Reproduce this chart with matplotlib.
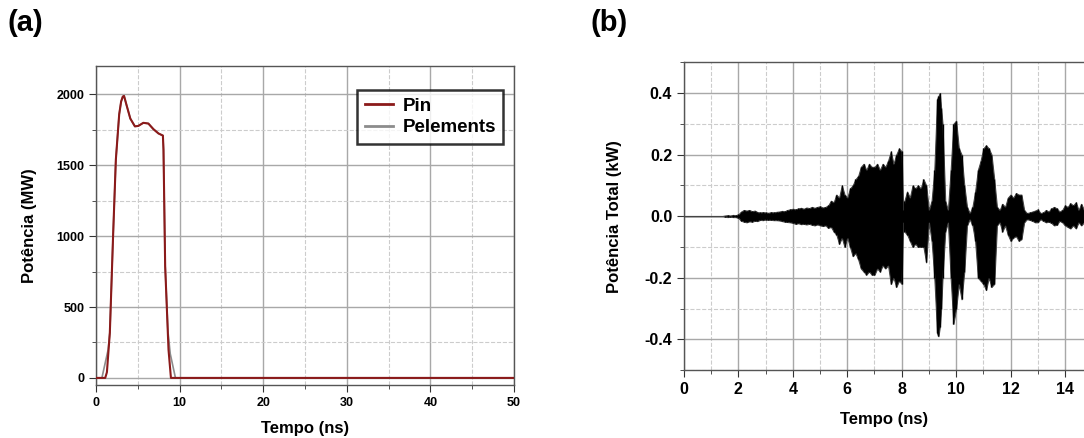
"""
Two-panel power plot: (a) input power vs. element power over time,
(b) total power oscillation envelope.
"""
import numpy as np
import matplotlib.pyplot as plt
from matplotlib.ticker import MultipleLocator

plt.rcParams['font.family'] = ['Liberation Sans', 'DejaVu Sans']
plt.rcParams['font.weight'] = 'bold'

# ---- panel (a) data: time (ns) / power (MW) ----
PIN_TIME = [0.0, 1.1, 1.3, 1.65, 2.05, 2.37, 2.77, 3.0, 3.2, 3.35, 3.65, 4.1, 4.65,
            5.05, 5.66, 6.26, 6.87, 7.47, 8.0, 8.07, 8.27, 8.67, 8.96, 50.0]
PIN_POWER = [0, 0, 40, 318, 1020, 1540, 1860, 1950, 1985, 1990, 1925, 1830, 1775,
             1778, 1800, 1795, 1755, 1725, 1710, 1610, 790, 200, 0, 0]

PEL_TIME = [0.0, 0.7, 1.45, 1.65, 2.05, 2.37, 2.77, 3.0, 3.2, 3.35, 3.65, 4.1, 4.65,
            5.05, 5.66, 6.26, 6.87, 7.47, 8.0, 8.07, 8.27, 8.6, 8.88, 9.5, 50.0]
PEL_POWER = [0, 0, 200, 318, 1020, 1540, 1860, 1950, 1985, 1990, 1925, 1830, 1775,
             1778, 1800, 1795, 1755, 1725, 1710, 1610, 790, 330, 170, 0, 0]

# ---- panel (b) data: time (ns) / upper & lower envelope (kW) ----
TOT_TIME = [0.0, 1.4, 1.5, 1.6, 1.7, 1.8, 1.9, 2.0, 2.1, 2.2, 2.3, 2.4, 2.5, 2.6, 2.7, 2.8, 2.9,
            3.0, 3.1, 3.2, 3.3, 3.4, 3.5, 3.6, 3.7, 3.8, 3.9,
            4.0, 4.1, 4.2, 4.3, 4.4, 4.5, 4.6, 4.7, 4.8, 4.9,
            5.0, 5.1, 5.2, 5.3, 5.4, 5.5, 5.6, 5.7, 5.8, 5.9,
            6.0, 6.1, 6.2, 6.3, 6.4, 6.5, 6.6, 6.7, 6.8, 6.9,
            7.0, 7.1, 7.2, 7.3, 7.4, 7.5, 7.6, 7.7, 7.8, 7.9,
            8.0, 8.05, 8.1, 8.2, 8.3, 8.4, 8.5, 8.6, 8.7, 8.8, 8.9,
            9.0, 9.1, 9.2, 9.3, 9.35, 9.4, 9.45, 9.5, 9.6, 9.7, 9.8, 9.9,
            10.0, 10.1, 10.2, 10.3, 10.4, 10.5, 10.6, 10.7, 10.8, 10.9,
            11.0, 11.1, 11.2, 11.3, 11.4, 11.5, 11.6, 11.7, 11.8, 11.9,
            12.0, 12.1, 12.2, 12.3, 12.4, 12.5, 12.6, 12.7, 12.8, 12.9,
            13.0, 13.1, 13.2, 13.3, 13.4, 13.5, 13.6, 13.7, 13.8, 13.9,
            14.0, 14.1, 14.2, 14.3, 14.4, 14.5, 14.6, 14.7]
TOT_UPPER = [0.0, 0.0, 0.002, 0.003, 0.002, 0.004, 0.003, 0.006, 0.015, 0.02, 0.018, 0.02, 0.016, 0.018, 0.013, 0.012, 0.013,
             0.012, 0.011, 0.013, 0.012, 0.014, 0.015, 0.017, 0.016, 0.02, 0.022,
             0.024, 0.022, 0.025, 0.027, 0.024, 0.028, 0.026, 0.03, 0.027, 0.03,
             0.032, 0.028, 0.03, 0.035, 0.05, 0.045, 0.07, 0.06, 0.1, 0.07,
             0.06, 0.09, 0.1, 0.12, 0.13, 0.16, 0.17, 0.15, 0.17, 0.16,
             0.16, 0.17, 0.15, 0.17, 0.16, 0.18, 0.21, 0.17, 0.2, 0.22,
             0.21, 0.02, 0.05, 0.08, 0.06, 0.1, 0.09, 0.1, 0.09, 0.12, 0.1,
             0.02, 0.05, 0.15, 0.38, 0.39, 0.4, 0.35, 0.3, 0.05, 0.02, 0.15, 0.3,
             0.31, 0.22, 0.2, 0.1, 0.03, 0.01, 0.03, 0.08, 0.15, 0.18,
             0.22, 0.23, 0.22, 0.2, 0.12, 0.03, 0.02, 0.04, 0.03, 0.06,
             0.07, 0.06, 0.075, 0.07, 0.07, 0.02, 0.01, 0.012, 0.015, 0.018,
             0.022, 0.01, 0.012, 0.02, 0.015, 0.025, 0.03, 0.025, 0.015, 0.02,
             0.035, 0.03, 0.042, 0.035, 0.045, 0.02, 0.04, 0.02]
TOT_LOWER = [0.0, 0.0, -0.002, -0.003, -0.002, -0.003, -0.003, -0.006, -0.015, -0.018, -0.02, -0.017, -0.018, -0.015, -0.016, -0.012, -0.013,
             -0.011, -0.012, -0.012, -0.013, -0.013, -0.014, -0.016, -0.018, -0.019, -0.02,
             -0.022, -0.025, -0.023, -0.026, -0.025, -0.027, -0.025, -0.028, -0.03, -0.027,
             -0.03, -0.032, -0.03, -0.038, -0.035, -0.05, -0.06, -0.09, -0.07, -0.1,
             -0.07, -0.1, -0.13, -0.12, -0.14, -0.17, -0.18, -0.19, -0.18, -0.19,
             -0.19, -0.17, -0.18, -0.16, -0.17, -0.16, -0.22, -0.2, -0.23, -0.21,
             -0.22, -0.02, -0.05, -0.06, -0.08, -0.1, -0.09, -0.1, -0.1, -0.1, -0.15,
             -0.02, -0.08, -0.2, -0.38, -0.39, -0.36, -0.3, -0.2, -0.05, -0.02, -0.2, -0.35,
             -0.3, -0.22, -0.27, -0.18, -0.03, -0.01, -0.03, -0.08, -0.2, -0.21,
             -0.22, -0.24, -0.2, -0.23, -0.22, -0.03, -0.02, -0.05, -0.03, -0.06,
             -0.08, -0.07, -0.065, -0.08, -0.075, -0.02, -0.01, -0.012, -0.015, -0.02,
             -0.02, -0.01, -0.015, -0.02, -0.018, -0.022, -0.03, -0.028, -0.015, -0.02,
             -0.03, -0.035, -0.04, -0.03, -0.04, -0.02, -0.03, -0.02]


def style_axes(ax, tick_size):
    ax.grid(which='major', color='#a8a8a8', linestyle='-', linewidth=1.0)
    ax.grid(which='minor', color='#cccccc', linestyle='--', linewidth=0.8)
    ax.set_axisbelow(True)
    ax.tick_params(which='both', direction='out', colors='#333333', labelcolor='black')
    ax.tick_params(which='major', length=5, labelsize=tick_size)
    ax.tick_params(which='minor', length=3)
    for spine in ax.spines.values():
        spine.set_color('#555555')
        spine.set_linewidth(1.0)
    for lbl in ax.get_xticklabels() + ax.get_yticklabels():
        lbl.set_fontweight('bold')


fig = plt.figure(figsize=(10.84, 4.38), dpi=100)

# ---- (a) ----
ax1 = fig.add_axes([0.0886, 0.121, 0.3855, 0.728])
ax1.plot(PEL_TIME, PEL_POWER, color='#8c8c8c', linewidth=1.2, label='Pelements', zorder=3)
ax1.plot(PIN_TIME, PIN_POWER, color='#8b1a1a', linewidth=1.5, label='Pin', zorder=4)
ax1.set_xlim(0, 50)
ax1.set_ylim(-50, 2200)
ax1.xaxis.set_major_locator(MultipleLocator(10))
ax1.xaxis.set_minor_locator(MultipleLocator(5))
ax1.yaxis.set_major_locator(MultipleLocator(500))
ax1.yaxis.set_minor_locator(MultipleLocator(250))
style_axes(ax1, 9)
ax1.set_xlabel('Tempo (ns)', fontsize=12, fontweight='bold', labelpad=9)
ax1.set_ylabel('Potência (MW)', fontsize=12, fontweight='bold', labelpad=14)
handles, labels = ax1.get_legend_handles_labels()
leg = ax1.legend(handles[::-1], labels[::-1], loc='upper right', bbox_to_anchor=(0.975, 0.925),
                 prop={'weight': 'bold', 'size': 13.5}, frameon=True, fancybox=False,
                 handlelength=1.5, borderpad=0.4, labelspacing=0.25, handletextpad=0.5,
                 borderaxespad=0.0)
leg.get_frame().set_edgecolor('black')
leg.get_frame().set_linewidth(1.8)
for line in leg.get_lines():
    line.set_linewidth(2.0)
fig.text(0.007, 0.948, '(a)', fontsize=21, fontweight='bold', va='center', ha='left')

# ---- (b) ----
ax2 = fig.add_axes([0.631, 0.155, 0.369, 0.703])
ax2.fill_between(TOT_TIME, TOT_LOWER, TOT_UPPER, color='black', linewidth=0.8,
                 edgecolor='#444444', zorder=3)
ax2.vlines(TOT_TIME, TOT_LOWER, TOT_UPPER, color='black', linewidth=1.0, zorder=3)
ax2.set_xlim(0, 14.7)
ax2.set_ylim(-0.5, 0.5)
ax2.xaxis.set_major_locator(MultipleLocator(2))
ax2.xaxis.set_minor_locator(MultipleLocator(1))
ax2.yaxis.set_major_locator(MultipleLocator(0.2))
ax2.yaxis.set_minor_locator(MultipleLocator(0.1))
ax2.yaxis.set_major_formatter(plt.FuncFormatter(lambda v, p: f'{v:.1f}'))
style_axes(ax2, 11.5)
ax2.spines['right'].set_visible(False)
ax2.set_xlabel('Tempo (ns)', fontsize=12, fontweight='bold', labelpad=11)
ax2.set_ylabel('Potência Total (kW)', fontsize=12, fontweight='bold', labelpad=16)
fig.text(0.545, 0.948, '(b)', fontsize=21, fontweight='bold', va='center', ha='left')

fig.savefig('out.png', dpi=100)
